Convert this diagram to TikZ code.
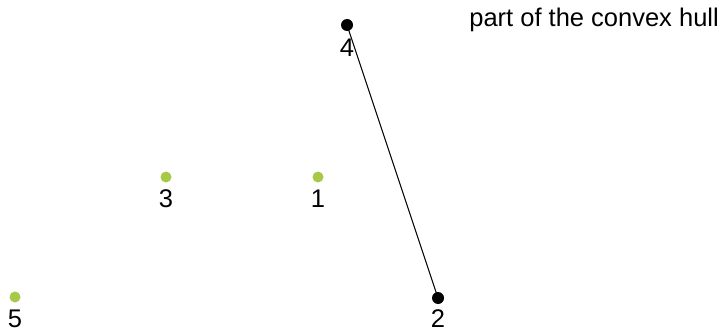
\documentclass[tikz,border=0pt]{standalone}
\usepackage{fontspec}
\setmainfont{Liberation Sans}
\definecolor{ptgreen}{RGB}{168,200,72}
\begin{document}
\begin{tikzpicture}[x=1pt,y=-1pt,
  hullpt/.style={circle,fill=black,inner sep=0pt,minimum size=12pt},
  otherpt/.style={circle,fill=ptgreen,inner sep=0pt,minimum size=11pt},
  lbl/.style={font=\fontsize{25.5}{30}\selectfont,inner sep=0pt},
  edge/.style={draw=black,line width=1pt}]
\useasboundingbox (0,0) rectangle (727,331);
\node[hullpt] (p4) at (347,25) {};
\node[hullpt] (p2) at (438,298) {};
\node[otherpt] (p3) at (166,177) {};
\node[otherpt] (p1) at (318,177) {};
\node[otherpt] (p5) at (15,297) {};
\node[lbl] (l4) at (347,48) {4};
\node[lbl] (l2) at (438,319) {2};
\node[lbl] (l3) at (166,199) {3};
\node[lbl] (l1) at (318,199) {1};
\node[lbl] (l5) at (15,319) {5};
\node[lbl,anchor=east] (title) at (719,20) {part of the convex hull};
\draw[edge] (p4.center) -- (p2.center);
\end{tikzpicture}
\end{document}
